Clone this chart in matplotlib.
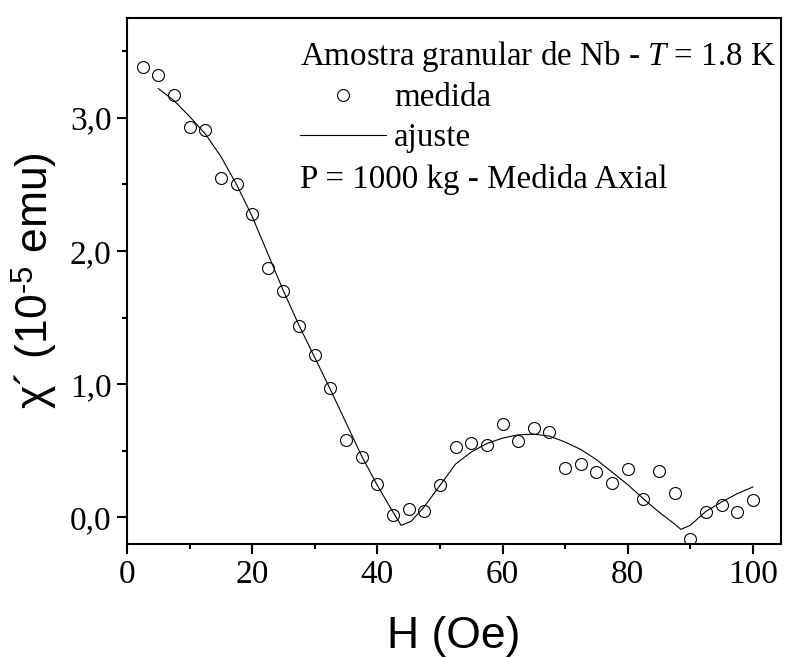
import numpy as np
import matplotlib
matplotlib.use('Agg')
import matplotlib.pyplot as plt
from matplotlib.lines import Line2D
import matplotlib.ticker as mtick

plt.rcParams['mathtext.fontset'] = 'custom'
plt.rcParams['mathtext.rm'] = 'Liberation Sans'
plt.rcParams['mathtext.it'] = 'Liberation Serif:italic'

serif = 'Liberation Serif'
sans = 'Liberation Sans'

# measured points
h_med = [2.5, 5, 7.5, 10, 12.5, 15, 17.5, 20, 22.5, 25, 27.5, 30, 32.5, 35,
         37.5, 40, 42.5, 45, 47.5, 50, 52.5, 55, 57.5, 60, 62.5, 65, 67.5,
         70, 72.5, 75, 77.5, 80, 82.5, 85, 87.5, 90, 92.5, 95, 97.5, 100]
chi_med = [3.38, 3.32, 3.17, 2.93, 2.91, 2.55, 2.50, 2.28, 1.87, 1.70, 1.44,
           1.22, 0.97, 0.58, 0.45, 0.25, 0.02, 0.06, 0.05, 0.24, 0.53, 0.56,
           0.54, 0.70, 0.57, 0.67, 0.64, 0.37, 0.40, 0.34, 0.26, 0.36, 0.14,
           0.35, 0.18, -0.16, 0.04, 0.09, 0.04, 0.13]

# fitted curve
h_fit = [5, 7.5, 10, 12.5, 15, 17.5, 20, 22.5, 25, 27.5, 30, 32.5, 35, 37.5,
         40, 42.5, 43.8, 45.4, 47.5, 50, 52.5, 55, 57.5, 60, 62.5, 65, 67.5,
         70, 72.5, 75, 77.5, 80, 82.5, 85, 87.5, 88.5, 90, 92.5, 95, 97.5, 100]
chi_fit = [3.22, 3.13, 3.01, 2.88, 2.71, 2.50, 2.26, 1.98, 1.70, 1.44, 1.20,
           0.96, 0.71, 0.46, 0.24, 0.04, -0.06, -0.03, 0.08, 0.24, 0.40, 0.49,
           0.555, 0.595, 0.62, 0.625, 0.61, 0.566, 0.51, 0.434, 0.34, 0.246,
           0.14, 0.04, -0.05, -0.09, -0.06, 0.045, 0.115, 0.178, 0.228]

fig = plt.figure(figsize=(7.85, 6.57), dpi=100)
ax = fig.add_axes([0.1618, 0.172, 0.8331, 0.8006])

ax.plot(h_med, chi_med, 'o', mfc='none', mec='black', ms=8.6, mew=0.8)
ax.plot(h_fit, chi_fit, '-', color='black', lw=0.8)

ax.set_xlim(0, 104.5)
ax.set_ylim(-0.2, 3.75)
ax.xaxis.set_major_locator(mtick.MultipleLocator(20))
ax.xaxis.set_minor_locator(mtick.MultipleLocator(10))
ax.yaxis.set_major_locator(mtick.MultipleLocator(1))
ax.yaxis.set_minor_locator(mtick.MultipleLocator(0.5))
ax.yaxis.set_major_formatter(
    mtick.FuncFormatter(lambda v, p: f'{v:.1f}'.replace('.', ',')))

for s in ax.spines.values():
    s.set_linewidth(1.5)
ax.tick_params(which='both', direction='out', width=1.5, top=False,
               right=False)
ax.tick_params(which='major', length=7.2, pad=4, labelsize=24)
ax.tick_params(which='minor', length=3.6)
for lab in ax.get_xticklabels() + ax.get_yticklabels():
    lab.set_fontfamily(serif)

ax.set_xlabel('H (Oe)', fontfamily=sans, fontsize=32, labelpad=19)
ax.set_ylabel('\u03c7\u00b4 (10$^{\u20105}$ emu)', fontfamily=sans,
              fontsize=32, labelpad=8)

fs = 23.8
ax.text(0.2645, 0.9106, 'Amostra granular de Nb - $T$ = 1.8 K',
        transform=ax.transAxes, fontfamily=serif, fontsize=fs, va='baseline')
ax.text(0.2645, 0.677, 'P = 1000 kg - Medida Axial',
        transform=ax.transAxes, fontfamily=serif, fontsize=fs, va='baseline')

handles = [Line2D([], [], ls='none', marker='o', mfc='none', mec='black',
                  ms=8.6, mew=0.8),
           Line2D([], [], color='black', lw=0.8)]
ax.legend(handles, ['medida', 'ajuste'], loc='upper left',
          bbox_to_anchor=(0.2645, 0.877), frameon=False, borderpad=0,
          borderaxespad=0, handlelength=2.6, handletextpad=0.24,
          labelspacing=0.29, prop={'family': serif, 'size': fs})

fig.savefig('out.png', dpi=100)
